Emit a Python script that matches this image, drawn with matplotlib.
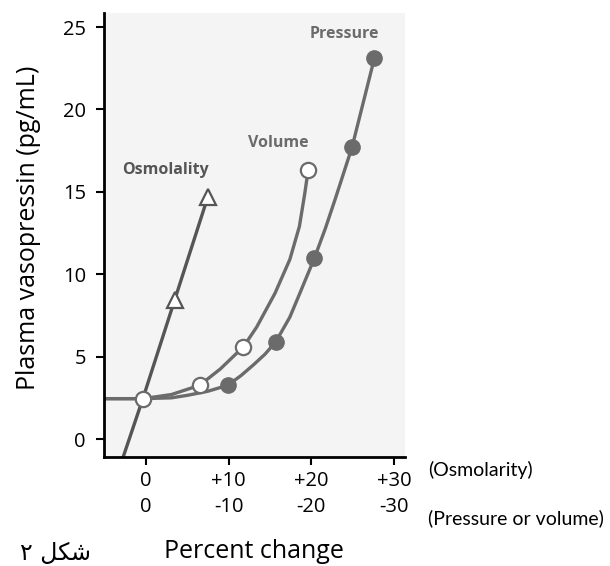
import matplotlib
matplotlib.use('Agg')
import matplotlib.pyplot as plt

# values
osm_x = [-3.2, -0.35, 3.5, 7.5]
osm_y = [-1.8, 2.45, 8.45, 14.7]

vol_x = [-5.1, -0.35, 3.1, 6.5, 9.0, 11.8, 13.4, 15.6, 17.4, 18.55, 19.2,
         19.6]
vol_y = [2.45, 2.45, 2.7, 3.26, 4.25, 5.6, 6.8, 8.84, 10.9, 12.9, 14.9,
         16.3]
vol_mark_x = [-0.35, 6.5, 11.8, 19.6]
vol_mark_y = [2.45, 3.26, 5.6, 16.3]

prs_x = [-5.1, -0.35, 3.1, 5.0, 7.5, 9.9, 11.5, 13.0, 14.4, 15.7, 17.4,
         18.6, 20.35, 21.7, 22.9, 24.9, 27.6]
prs_y = [2.45, 2.45, 2.5, 2.65, 2.9, 3.26, 3.85, 4.5, 5.15, 5.9, 7.4,
         8.84, 10.96, 12.8, 14.6, 17.7, 23.1]
prs_mark_x = [9.9, 15.7, 20.35, 24.9, 27.6]
prs_mark_y = [3.26, 5.9, 10.96, 17.7, 23.1]

xticks = [0, 10, 20, 30]
xlabels_osm = ['0', '+10', '+20', '+30']
xlabels_pv = ['0', '-10', '-20', '-30']
yticks = [0, 5, 10, 15, 20, 25]

plt.rcParams['font.family'] = ['Open Sans', 'DejaVu Sans']

W, H = 610, 566
fig = plt.figure(figsize=(W / 100, H / 100), dpi=100)
ax = fig.add_axes([104 / W, 1 - 457 / H, 301 / W, 444 / H])
ax.set_facecolor('#f4f4f4')

line_c = '#6b6b6b'
osm_c = '#555555'

ax.plot(osm_x, osm_y, color=osm_c, lw=2.4, zorder=2)
ax.plot(osm_x[2:], osm_y[2:], ls='none', marker='^', ms=11, mfc='white',
        mec=osm_c, mew=1.6, zorder=4)

ax.plot(vol_x, vol_y, color=line_c, lw=2.4, zorder=2)
ax.plot(prs_x, prs_y, color=line_c, lw=2.4, zorder=2)
ax.plot(prs_mark_x, prs_mark_y, ls='none', marker='o', ms=11, mfc=line_c,
        mec=line_c, zorder=4)
ax.plot(vol_mark_x, vol_mark_y, ls='none', marker='o', ms=11, mfc='white',
        mec=line_c, mew=1.6, zorder=5)

ax.text(2.4, 16.3, 'Osmolality', fontsize=11.5, fontweight='bold',
        color='#555555', ha='center', va='center')
ax.text(16.0, 17.95, 'Volume', fontsize=11.5, fontweight='bold',
        color='#6b6b6b', ha='center', va='center')
ax.text(24.0, 24.6, 'Pressure', fontsize=11.5, fontweight='bold',
        color='#6b6b6b', ha='center', va='center')

ax.set_xlim(-5.04, 31.3)
ax.set_ylim(-1.09, 25.85)

for s in ['top', 'right']:
    ax.spines[s].set_visible(False)
for s in ['left', 'bottom']:
    ax.spines[s].set_linewidth(2)
    ax.spines[s].set_color('black')

ax.set_yticks(yticks)
ax.set_xticks(xticks, labels=xlabels_osm)
ax.tick_params(axis='both', length=6, width=1.5, labelsize=14.5)
ax.tick_params(axis='x', pad=4)
ax.tick_params(axis='y', pad=7)

sec = ax.secondary_xaxis('bottom')
sec.set_xticks(xticks, labels=xlabels_pv)
sec.tick_params(length=0, pad=29, labelsize=14.5)
sec.spines['bottom'].set_visible(False)

fig.text(29 / W, 1 - 228 / H, 'Plasma vasopressin (pg/mL)', fontsize=18,
         rotation=90, ha='center', va='center')
fig.text(254 / W, 1 - 551 / H, 'Percent change', fontsize=18,
         ha='center', va='center')
fig.text(428 / W, 1 - 470 / H, '(Osmolarity)', fontsize=14,
         family=['Lato'], ha='left', va='center')
fig.text(428 / W, 1 - 518 / H, '(Pressure or volume)', fontsize=14,
         family=['Lato'], ha='left', va='center')
# Persian caption, written with presentation forms in visual order
fig.text(20 / W, 1 - 553 / H, '\u06f2 \ufede\ufb91\ufeb7', fontsize=17,
         family=['DejaVu Sans'], ha='left', va='center')

fig.savefig('out.png', dpi=100)
